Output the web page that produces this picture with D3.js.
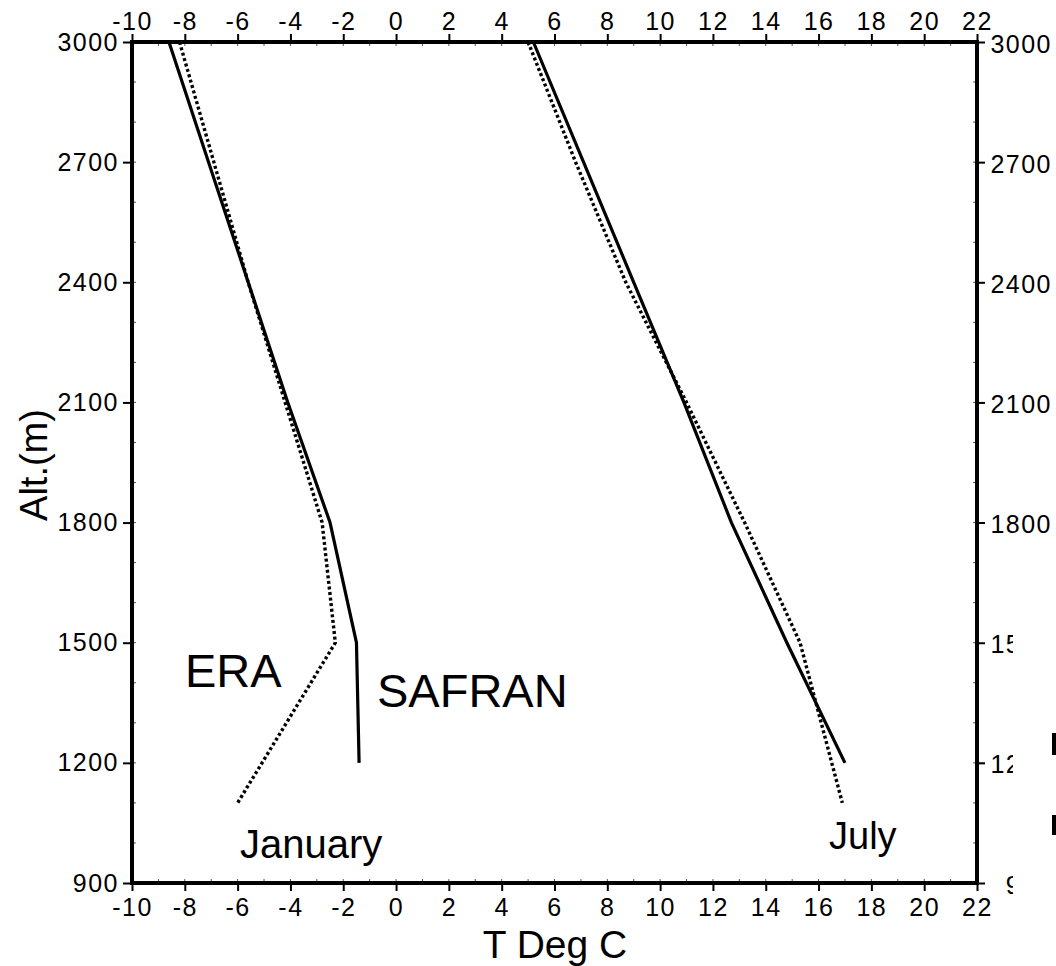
<!DOCTYPE html>
<html>
<head>
<meta charset="utf-8">
<script src="https://cdn.jsdelivr.net/npm/d3@7"></script>
<style>
  body { margin: 0; background: #fff; }
  text { font-family: "Liberation Sans", Arial, sans-serif; fill: #000; }
</style>
</head>
<body>
<svg id="chart"></svg>
<script>
// altitude levels (m)
let safranAlt = [3000, 2700, 2400, 2100, 1800, 1500, 1200];
let eraAlt = [3000, 2700, 2400, 2100, 1800, 1500, 1100];
// temperatures (deg C)
let janSafran = [-8.6, -7.1, -5.6, -4.1, -2.5, -1.5, -1.4];
let janEra = [-8.2, -6.9, -5.6, -4.2, -2.8, -2.3, -6.0];
let julSafran = [5.2, 7.1, 9.0, 10.9, 12.7, 14.8, 17.0];
let julEra = [5.0, 6.8, 8.7, 11.0, 13.2, 15.3, 16.9];

let xTicks = [-10, -8, -6, -4, -2, 0, 2, 4, 6, 8, 10, 12, 14, 16, 18, 20, 22];
let yTicks = [900, 1200, 1500, 1800, 2100, 2400, 2700, 3000];

let W = 1056, H = 966;
let margin = {top: 42, right: 79, bottom: 83, left: 132};

let svg = d3.select('#chart').attr('width', W).attr('height', H);

let xScale = d3.scaleLinear().domain([-10, 22]).range([margin.left, W - margin.right]);
let yScale = d3.scaleLinear().domain([900, 3000]).range([H - margin.bottom, margin.top]);

let fmt = function (d) { return String(d); };

// minor ticks, small, inside the frame
let minorX = d3.range(-10, 23, 1);
let minorY = d3.range(900, 3001, 100);
let minor = svg.append('g').attr('stroke', '#555').attr('stroke-width', 1);
minorX.forEach(function (v) {
    minor.append('line').attr('x1', xScale(v)).attr('x2', xScale(v))
        .attr('y1', yScale(3000)).attr('y2', yScale(3000) + 4);
    minor.append('line').attr('x1', xScale(v)).attr('x2', xScale(v))
        .attr('y1', yScale(900)).attr('y2', yScale(900) - 4);
});
minorY.forEach(function (v) {
    minor.append('line').attr('x1', xScale(-10)).attr('x2', xScale(-10) + 4)
        .attr('y1', yScale(v)).attr('y2', yScale(v));
    minor.append('line').attr('x1', xScale(22)).attr('x2', xScale(22) - 4)
        .attr('y1', yScale(v)).attr('y2', yScale(v));
});

function styleAxis(g) {
    g.select('.domain').remove();
    g.selectAll('.tick line').attr('stroke', '#000').attr('stroke-width', 2);
    g.selectAll('.tick text')
        .style('font-family', '"Liberation Sans", Arial, sans-serif')
        .style('font-size', '25px')
        .style('letter-spacing', '1.5px')
        .attr('fill', '#000');
}

svg.append('g')
    .attr('transform', 'translate(0,' + (H - margin.bottom) + ')')
    .call(d3.axisBottom(xScale).tickValues(xTicks).tickFormat(fmt).tickSize(8).tickPadding(7))
    .call(styleAxis);

svg.append('g')
    .attr('transform', 'translate(0,' + margin.top + ')')
    .call(d3.axisTop(xScale).tickValues(xTicks).tickFormat(fmt).tickSize(8).tickPadding(4))
    .call(styleAxis);

svg.append('g')
    .attr('transform', 'translate(' + margin.left + ',0)')
    .call(d3.axisLeft(yScale).tickValues(yTicks).tickFormat(fmt).tickSize(9).tickPadding(4))
    .call(styleAxis);

// right axis labels are right-aligned and partly cut off in the lower part
let defs = svg.append('defs');
let clip = defs.append('clipPath').attr('id', 'rclip');
clip.append('rect').attr('x', 0).attr('y', 0).attr('width', W).attr('height', 585);
clip.append('rect').attr('x', 0).attr('y', 585).attr('width', 1013).attr('height', H - 585);

let rightAxis = svg.append('g')
    .attr('clip-path', 'url(#rclip)')
    .append('g')
    .attr('transform', 'translate(' + (W - margin.right) + ',0)')
    .call(d3.axisRight(yScale).tickValues(yTicks).tickFormat(fmt).tickSize(8).tickPadding(3))
    .call(styleAxis);
rightAxis.selectAll('.tick text')
    .attr('text-anchor', 'end')
    .attr('x', 75)
    .attr('dy', '0.4em');

// frame
svg.append('rect')
    .attr('x', xScale(-10)).attr('y', yScale(3000))
    .attr('width', xScale(22) - xScale(-10))
    .attr('height', yScale(900) - yScale(3000))
    .attr('fill', 'none').attr('stroke', '#000').attr('stroke-width', 4);

let line = d3.line()
    .x(function (d) { return xScale(d[0]); })
    .y(function (d) { return yScale(d[1]); });

function profile(temps, alts, dotted) {
    let pts = temps.map(function (t, i) { return [t, alts[i]]; });
    let p = svg.append('path')
        .datum(pts)
        .attr('d', line)
        .attr('fill', 'none')
        .attr('stroke', '#000')
        .attr('stroke-linejoin', 'round');
    if (dotted) {
        p.attr('stroke-width', 3.4).attr('stroke-dasharray', '3,2.6');
    } else {
        p.attr('stroke-width', 3.2);
    }
}

profile(janSafran, safranAlt, false);
profile(janEra, eraAlt, true);
profile(julSafran, safranAlt, false);
profile(julEra, eraAlt, true);

// labels
function label(txt, x, y, size, anchor) {
    svg.append('text')
        .attr('x', x).attr('y', y)
        .attr('text-anchor', anchor || 'start')
        .style('font-size', size + 'px')
        .text(txt);
}
label('ERA', 185, 687, 47);
label('SAFRAN', 377, 707, 47);
label('January', 240, 858, 40);
label('July', 829, 849, 38);
label('T Deg C', 555, 958, 39, 'middle');

svg.append('text')
    .attr('transform', 'translate(47,' + 465 + ') rotate(-90)')
    .attr('text-anchor', 'middle')
    .style('font-size', '38px')
    .text('Alt.(m)');

// small leftover marks at the right edge
svg.append('rect').attr('x', 1052).attr('y', 733).attr('width', 4).attr('height', 22).attr('fill', '#000');
svg.append('rect').attr('x', 1052).attr('y', 815).attr('width', 4).attr('height', 20).attr('fill', '#000');
</script>
</body>
</html>
